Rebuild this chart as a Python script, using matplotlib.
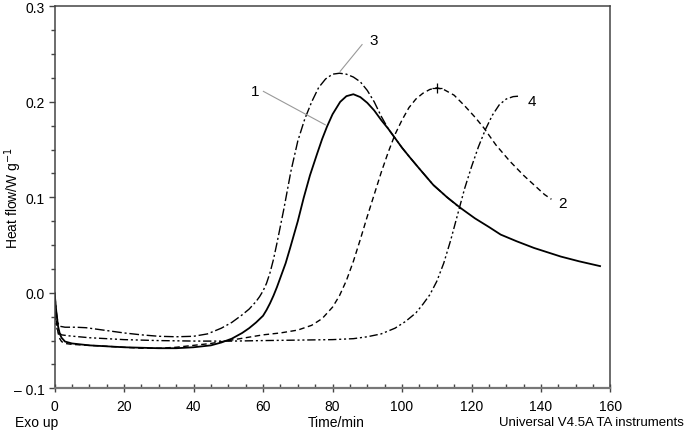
import numpy as np
import matplotlib
matplotlib.use("Agg")
import matplotlib.pyplot as plt
from matplotlib.ticker import MultipleLocator, FixedLocator, FixedFormatter

plt.rcParams["font.family"] = ["Liberation Sans", "DejaVu Sans"]

# Curve 1 (solid)
t1 = [0, 0.5, 1, 1.5, 2, 3, 5, 10, 15, 20, 25, 30, 35, 40, 45, 48, 51, 54, 56, 58, 60,
      61, 62, 63, 64, 65, 66.5, 67.8, 70, 71.7, 73.5, 75.5, 77, 78.4, 80, 82.2, 84, 86,
      88, 90, 92, 94, 96, 98, 100, 102, 105, 109, 113, 116.8, 121, 125, 128.4, 133, 138,
      145.7, 151, 157]
v1 = [0.0, -0.02, -0.035, -0.043, -0.047, -0.051, -0.053, -0.055, -0.056, -0.057, -0.0575,
      -0.058, -0.058, -0.057, -0.055, -0.052, -0.048, -0.042, -0.037, -0.031, -0.024,
      -0.018, -0.011, -0.003, 0.006, 0.016, 0.031, 0.047, 0.075, 0.0995, 0.123, 0.145,
      0.161, 0.174, 0.187, 0.2, 0.206, 0.208, 0.205, 0.199, 0.191, 0.181, 0.172, 0.162,
      0.152, 0.143, 0.130, 0.113, 0.100, 0.089, 0.078, 0.069, 0.061, 0.054, 0.047, 0.038,
      0.033, 0.028]

# Curve 2 (dashed)
t2 = [0, 0.5, 1, 1.5, 2, 3, 5, 10, 15, 20, 25, 30, 35, 40, 45, 50, 55, 60, 65, 70, 74,
      77, 80, 82, 84, 86, 88, 90, 92, 94, 96, 98, 100, 102, 104, 106, 108, 110, 112, 115,
      118, 121, 123.5, 127, 131, 135, 138, 141, 143]
v2 = [-0.01, -0.03, -0.042, -0.048, -0.051, -0.053, -0.054, -0.055, -0.056, -0.057,
      -0.058, -0.058, -0.057, -0.055, -0.053, -0.050, -0.047, -0.044, -0.042, -0.039,
      -0.034, -0.027, -0.015, -0.003, 0.013, 0.033, 0.056, 0.080, 0.103, 0.126, 0.147,
      0.166, 0.181, 0.194, 0.203, 0.209, 0.213, 0.2147, 0.213, 0.207, 0.196, 0.184,
      0.173, 0.155, 0.138, 0.123, 0.113, 0.103, 0.098]

# Curve 3 (dash-dot)
t3 = [0, 0.5, 1, 1.5, 3, 6, 9, 12, 16, 20, 25, 30, 35, 40, 44, 48, 51, 54, 56, 58, 59,
      60, 61, 62, 63, 64, 66, 68, 70, 72, 74, 76, 78, 80, 82, 84, 86, 88, 90, 92, 94, 96,
      98, 100, 102, 105, 109, 113, 117]
v3 = [0.0, -0.02, -0.032, -0.035, -0.036, -0.036, -0.0365, -0.038, -0.040, -0.042,
      -0.044, -0.0455, -0.046, -0.0455, -0.043, -0.037, -0.031, -0.023, -0.017, -0.009,
      -0.004, 0.002, 0.010, 0.021, 0.035, 0.052, 0.088, 0.127, 0.159, 0.182, 0.200,
      0.215, 0.224, 0.229, 0.230, 0.229, 0.226, 0.221, 0.212, 0.200, 0.185, 0.172,
      0.162, 0.152, 0.143, 0.130, 0.113, 0.100, 0.088]

# Curve 4 (dash-dot-dot)
t4 = [0, 0.5, 1, 2, 4, 10, 20, 30, 40, 50, 60, 70, 80, 86, 90, 94, 98, 101, 104,
      106, 108, 110, 112, 114, 116, 118, 120, 122, 124, 126, 128, 130, 132, 133.6]
v4 = [-0.02, -0.035, -0.041, -0.044, -0.045, -0.047, -0.049, -0.050, -0.0505, -0.0506,
      -0.050, -0.0495, -0.049, -0.048, -0.046, -0.043, -0.037, -0.030, -0.021, -0.012,
      -0.002, 0.012, 0.031, 0.055, 0.082, 0.109, 0.132, 0.153, 0.171, 0.186, 0.197,
      0.203, 0.2055, 0.206]

yticks = [-0.1, 0.0, 0.1, 0.2, 0.3]
yticklabels = ["\u2013 0.1", "0.0", "0.1", "0.2", "0.3"]

fig = plt.figure(figsize=(6.85, 4.35), dpi=100)
ax = fig.add_axes([0.0797, 0.105, 0.8115, 0.878])

ax.plot(t1, v1, color="black", lw=1.3, ls="-")
ax.plot(t2, v2, color="black", lw=1.0, ls=(0, (4, 2.5)))
ax.plot(t3, v3, color="black", lw=1.0, ls=(0, (7, 2, 1.5, 2)))
ax.plot(t4, v4, color="black", lw=1.0, ls=(0, (6, 2, 1.5, 2, 1.5, 2)))

# peak marker on curve 2
ax.plot([110], [0.2147], marker="+", color="black", ms=7, mew=0.9)

# curve labels
gray = "#999999"
ax.plot([60.1, 77.9], [0.211, 0.176], color=gray, lw=0.8)
ax.text(57.8, 0.211, "1", ha="center", va="center", fontsize=11)
ax.plot([88.5, 82.2], [0.260, 0.232], color=gray, lw=0.8)
ax.text(91.8, 0.265, "3", ha="center", va="center", fontsize=11)
ax.text(137.5, 0.2007, "4", ha="center", va="center", fontsize=11)
ax.text(146.3, 0.094, "2", ha="center", va="center", fontsize=11)

ax.set_xlim(0, 160)
ax.set_ylim(-0.1, 0.3)
ax.xaxis.set_major_locator(MultipleLocator(20))
ax.xaxis.set_minor_locator(MultipleLocator(5))
ax.yaxis.set_major_locator(FixedLocator(yticks))
ax.yaxis.set_major_formatter(FixedFormatter(yticklabels))
ax.yaxis.set_minor_locator(MultipleLocator(0.025))

ax.tick_params(axis="x", which="major", direction="inout", length=6, width=1,
               color="#444444", labelsize=10, pad=5)
ax.tick_params(axis="x", which="minor", direction="in", length=3, width=1, color="#444444")
ax.tick_params(axis="y", which="major", direction="out", length=4, width=1,
               color="#444444", labelsize=10, pad=3)
ax.tick_params(axis="y", which="minor", direction="out", length=3, width=1, color="#444444")

for s in ax.spines.values():
    s.set_color("#444444")
    s.set_linewidth(1.1)
ax.spines["bottom"].set_color("#777777")
ax.spines["bottom"].set_linewidth(1.6)

fig.text(13 / 685, 1 - 198 / 435, "Heat flow/W g$^{-1}$", rotation=90,
         ha="center", va="center", fontsize=10)
fig.text(15 / 685, 1 - 423 / 435, "Exo up", ha="left", va="center", fontsize=10)
fig.text(336 / 685, 1 - 423 / 435, "Time/min", ha="center", va="center", fontsize=10)
fig.text(684 / 685, 1 - 423 / 435, "Universal V4.5A TA instruments", ha="right",
         va="center", fontsize=9.5)

fig.savefig("out.png", dpi=100)
